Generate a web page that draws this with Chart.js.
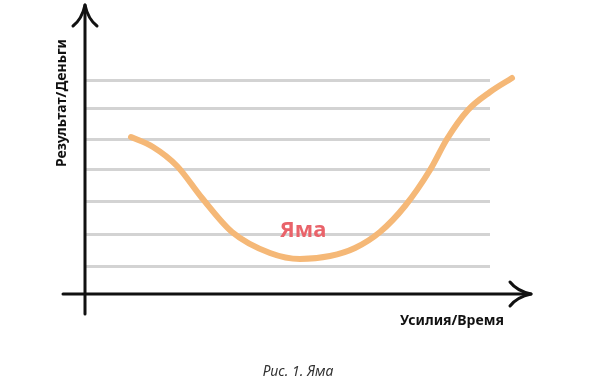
<!DOCTYPE html>
<html>
<head>
<meta charset="utf-8">
<script src="https://cdn.jsdelivr.net/npm/chart.js@4"></script>
<style>
  html, body { margin: 0; padding: 0; background: #fff; }
  #wrap { width: 591px; height: 384px; position: relative; }
</style>
</head>
<body>
<div id="wrap"><canvas id="chart" width="591" height="384"></canvas></div>
<script>
// data (x: effort/time, y: result/money)
const curveX = [46, 68, 92, 117, 147, 185, 215, 245, 270, 295, 320, 345, 362, 383, 405, 427];
const curveY = [157, 147, 128, 96, 62, 41, 35, 38, 46, 62, 88, 124, 155, 184, 202, 216];
const gridValues = [28, 60, 93, 125, 155, 185, 214];

const yTitle = 'Результат/Деньги';
const xTitle = 'Усилия/Время';
const pitLabel = 'Яма';
const caption = 'Рис. 1. Яма';

const points = curveX.map((x, i) => ({ x: x, y: curveY[i] }));

// axes with arrows + texts
const axesPlugin = {
  id: 'axesPlugin',
  afterDraw(chart) {
    const ctx = chart.ctx;
    const xs = chart.scales.x, ys = chart.scales.y;
    const ox = xs.getPixelForValue(0);
    const oy = ys.getPixelForValue(0);

    ctx.save();
    ctx.strokeStyle = '#111';
    ctx.lineWidth = 3;
    ctx.lineCap = 'round';
    ctx.lineJoin = 'round';

    // y axis
    const topY = oy - 289;
    ctx.beginPath();
    ctx.moveTo(ox, oy + 20);
    ctx.lineTo(ox, topY);
    ctx.stroke();
    ctx.beginPath();
    ctx.moveTo(ox - 12, topY + 21);
    ctx.quadraticCurveTo(ox - 3, topY + 14, ox, topY);
    ctx.quadraticCurveTo(ox + 3, topY + 14, ox + 12, topY + 21);
    ctx.stroke();

    // x axis
    const rightX = ox + 446;
    ctx.beginPath();
    ctx.moveTo(ox - 22, oy);
    ctx.lineTo(rightX, oy);
    ctx.stroke();
    ctx.beginPath();
    ctx.moveTo(rightX - 21, oy - 12);
    ctx.quadraticCurveTo(rightX - 14, oy - 3, rightX, oy);
    ctx.quadraticCurveTo(rightX - 14, oy + 3, rightX - 21, oy + 12);
    ctx.stroke();

    // titles
    ctx.fillStyle = '#111';
    ctx.font = 'bold 14px "Noto Sans", sans-serif';
    ctx.textAlign = 'center';
    ctx.textBaseline = 'middle';
    ctx.save();
    ctx.translate(ox - 23, oy - 191);
    ctx.rotate(-Math.PI / 2);
    ctx.fillText(yTitle, 0, 0);
    ctx.restore();

    ctx.fillText(xTitle, ox + 367, oy + 27);

    ctx.fillStyle = '#e9636a';
    ctx.font = 'bold 22px "Noto Sans", sans-serif';
    ctx.fillText(pitLabel, xs.getPixelForValue(218), oy - 63);

    ctx.fillStyle = '#333';
    ctx.font = 'italic 14px "Noto Sans", sans-serif';
    ctx.fillText(caption, 298, 372);
    ctx.restore();
  }
};

new Chart(document.getElementById('chart').getContext('2d'), {
  type: 'line',
  data: {
    datasets: [{
      data: points,
      borderColor: '#f5b877',
      borderWidth: 6,
      borderCapStyle: 'round',
      borderJoinStyle: 'round',
      pointRadius: 0,
      cubicInterpolationMode: 'monotone',
      capBezierPoints: false,
      fill: false,
      clip: false
    }]
  },
  options: {
    responsive: false,
    animation: false,
    layout: { padding: { left: 85, right: 101, top: 5, bottom: 90 } },
    plugins: { legend: { display: false }, tooltip: { enabled: false } },
    scales: {
      x: {
        type: 'linear',
        bounds: 'data',
        display: false,
        // grid stops at 405, the curve runs on past it
        afterDataLimits: (scale) => { scale.min = 0; scale.max = 405; }
      },
      y: {
        type: 'linear',
        min: 0,
        max: 289,
        afterBuildTicks: (scale) => { scale.ticks = gridValues.map(v => ({ value: v })); },
        ticks: { display: false },
        border: { display: false },
        grid: { color: '#d3d3d3', lineWidth: 3, drawTicks: false }
      }
    }
  },
  plugins: [axesPlugin]
});
</script>
</body>
</html>
